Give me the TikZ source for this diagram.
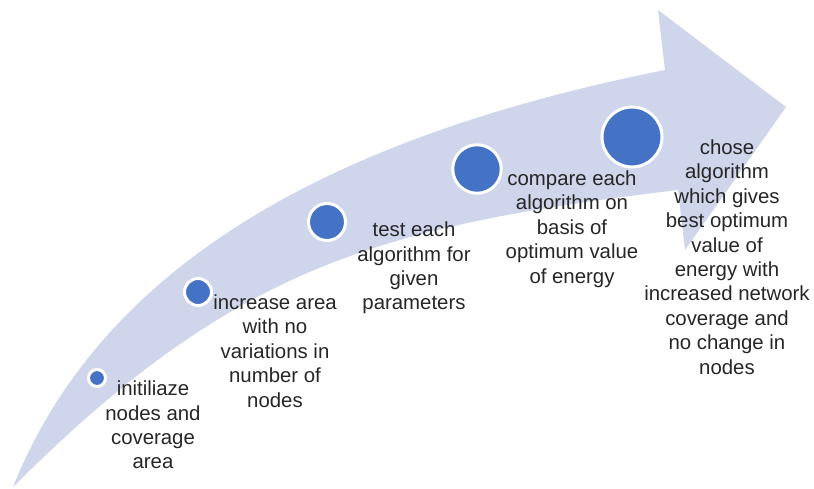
\documentclass[tikz,border=0pt]{standalone}
\usepackage{fontspec}
\setmainfont{Liberation Sans}
\definecolor{bandblue}{RGB}{207,213,234}
\definecolor{dotblue}{RGB}{68,114,196}
\definecolor{txtgray}{RGB}{38,38,38}

\begin{document}
\begin{tikzpicture}[x=0.02cm,y=-0.02cm,
    dot/.style={circle,fill=dotblue,draw=white,line width=1.7pt,inner sep=0pt},
    steptxt/.style={align=center,inner sep=0pt,text=txtgray,font=\fontsize{11.6}{13.9}\selectfont}]
    \useasboundingbox (0,0) rectangle (814,489);

    \fill[bandblue] (13,487) .. controls (103,262) and (335,136) .. (665,70)
      -- (658,10) -- (786,107) -- (685,250) -- (678,190)
      .. controls (378,226) and (233,267) .. (13,487) -- cycle;

    \foreach \name/\x/\y/\d in {c1/97/378/0.34,c2/198/292/0.54,c3/327/222/0.74,c4/477/169/0.97,c5/632/137/1.2}
    \node[dot,minimum size=\d cm] (\name) at (\x,\y) {};

    \node[steptxt] (t1) at (153,425) {initiliaze\\nodes and\\coverage\\area};
    \node[steptxt] (t2) at (275,351) {increase area\\with no\\variations in\\number of\\nodes};
    \node[steptxt] (t3) at (414,268) {test each\\algorithm for\\given\\parameters};
    \node[steptxt] (t4) at (572,229) {compare each\\algorithm on\\basis of\\optimum value\\of energy};
    \node[steptxt] (t5) at (727,257) {chose\\algorithm\\which gives\\best optimum\\value of\\energy with\\increased network\\coverage and\\no change in\\nodes};
  \end{tikzpicture}
\end{document}
